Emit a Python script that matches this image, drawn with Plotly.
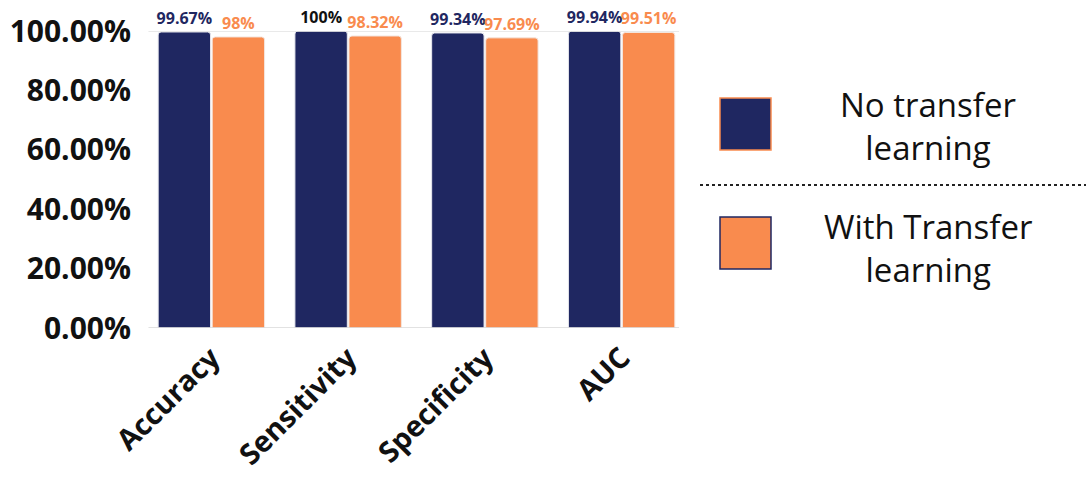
import plotly.graph_objects as go

categories = ["Accuracy", "Sensitivity", "Specificity", "AUC"]
no_tl = [99.67, 100, 99.34, 99.94]
with_tl = [98, 98.32, 97.69, 99.51]
no_tl_labels = ["99.67%", "100%", "99.34%", "99.94%"]
with_tl_labels = ["98%", "98.32%", "97.69%", "99.51%"]
series_names = ["No transfer<br>learning", "With Transfer<br>learning"]
y_ticks = [0, 20, 40, 60, 80, 100]
y_tick_labels = ["0.00%", "20.00%", "40.00%", "60.00%", "80.00%", "100.00%"]

NAVY = "#1F2761"
ORANGE = "#F98B4E"
FONT = "Open Sans"

fig = go.Figure()
fig.add_trace(go.Bar(
    x=categories, y=no_tl, name=series_names[0],
    marker=dict(color=NAVY, cornerradius=3, line=dict(color="#e8e8ee", width=1)),
    text=no_tl_labels, textposition="outside",
    textfont=dict(family=FONT, size=16, color=[NAVY, "#111111", NAVY, NAVY], weight="bold"),
    cliponaxis=False, showlegend=False,
))
fig.add_trace(go.Bar(
    x=categories, y=with_tl, name=series_names[1],
    marker=dict(color=ORANGE, cornerradius=3, line=dict(color="#f3e6e0", width=1)),
    text=with_tl_labels, textposition="outside",
    textfont=dict(family=FONT, size=16, color=ORANGE, weight="bold"),
    cliponaxis=False, showlegend=False,
))

fig.update_layout(
    width=1086, height=479,
    margin=dict(l=143, r=396, t=31, b=151),
    paper_bgcolor="white", plot_bgcolor="white",
    barmode="group", bargap=0.21, bargroupgap=0.03,
    uniformtext=dict(mode=False),
    font=dict(family=FONT, color="#111111"),
)
fig.update_traces(constraintext="none")
fig.update_yaxes(
    range=[0, 100], tickvals=y_ticks, ticktext=y_tick_labels,
    showgrid=False, zeroline=False,
    tickfont=dict(family=FONT, size=30, color="#111111", weight="bold"),
    ticks="", ticklen=0, automargin=False, ticklabelstandoff=11,
)
fig.update_xaxes(
    tickangle=-45, showgrid=False, showline=False,
    tickfont=dict(family=FONT, size=29, color="#111111", weight="bold"),
    automargin=False, ticklabelstandoff=6,
)
# top and bottom frame lines
fig.add_shape(type="line", xref="paper", yref="y", x0=0.01, x1=0.98, y0=0, y1=0,
              line=dict(color="#d9d9d9", width=1.5))
fig.add_shape(type="line", xref="paper", yref="y", x0=0.01, x1=0.98, y0=100, y1=100,
              line=dict(color="#e2e2e2", width=1.5))

# custom legend
def px_x(px):
    return (px - 143) / (1086 - 143 - 396)

def px_y(py):
    return (479 - 151 - py) / (479 - 151 - 31)

fig.add_shape(type="rect", xref="paper", yref="paper",
              x0=px_x(720), x1=px_x(771), y0=px_y(150), y1=px_y(98),
              fillcolor=NAVY, line=dict(color=ORANGE, width=1.5))
fig.add_shape(type="rect", xref="paper", yref="paper",
              x0=px_x(720), x1=px_x(771), y0=px_y(269), y1=px_y(217),
              fillcolor=ORANGE, line=dict(color=NAVY, width=1.5))
fig.add_shape(type="line", xref="paper", yref="paper",
              x0=px_x(700), x1=px_x(1086), y0=px_y(185), y1=px_y(185),
              line=dict(color="#222222", width=2, dash="dot"))
fig.add_annotation(xref="paper", yref="paper", x=px_x(928), y=px_y(126),
                   xanchor="center", yanchor="middle",
                   text=series_names[0], showarrow=False,
                   font=dict(family=FONT, size=33, color="#111111"), align="center")
fig.add_annotation(xref="paper", yref="paper", x=px_x(928), y=px_y(248),
                   xanchor="center", yanchor="middle",
                   text=series_names[1], showarrow=False,
                   font=dict(family=FONT, size=33, color="#111111"), align="center")

fig.write_html("out.html")
